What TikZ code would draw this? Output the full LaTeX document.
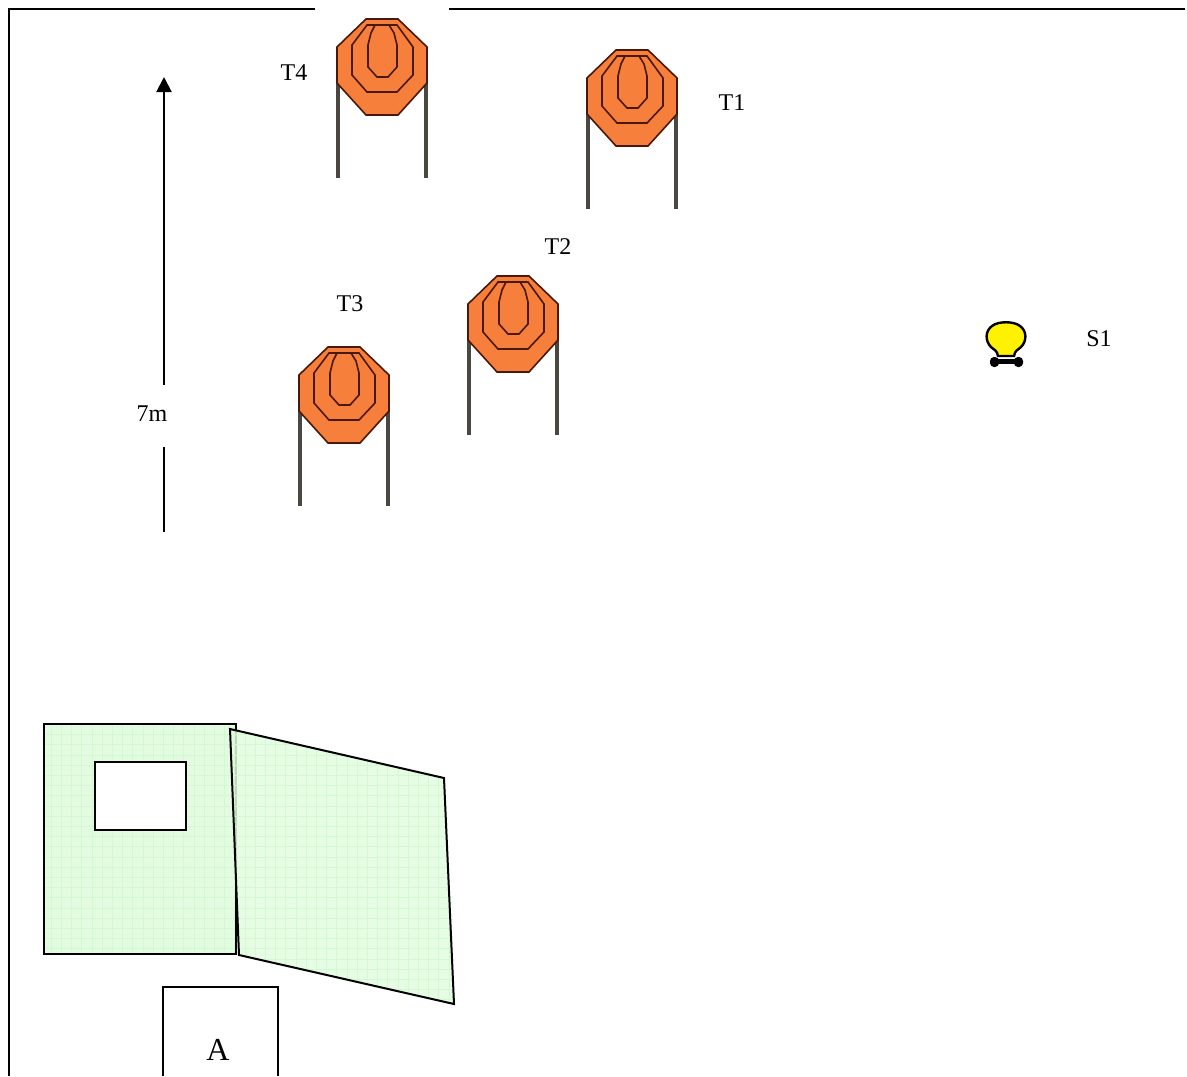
\documentclass[tikz,border=0pt]{standalone}
\usepackage{fontspec}
\setmainfont{Liberation Serif}
\usetikzlibrary{arrows.meta}
\definecolor{tgfill}{HTML}{F77F3C}
\definecolor{tgline}{HTML}{4A1806}
\definecolor{panelfill}{HTML}{E3FBE1}
\definecolor{panelgrid}{HTML}{D2F9CF}
\definecolor{postcol}{HTML}{4A4640}
\tikzset{
  x=0.5pt,y=-0.5pt,
  lbl/.style={inner sep=0pt,font=\fontsize{12}{14}\selectfont},
  border/.style={line width=1pt,black},
  panel/.style={line width=1pt,black},
  targetpost/.style={postcol,line width=2pt},
  targetedge/.style={tgline,line width=0.8pt},
  pics/shootingtarget/.style={code={
    \draw[targetpost] (-44,60) -- (-44,160);
    \draw[targetpost] (44,60) -- (44,160);
    \draw[targetedge,fill=tgfill] (-16,1) -- (16,1) -- (45,29) -- (45,65) -- (16,97) -- (-16,97) -- (-45,65) -- (-45,29) -- cycle;
    \draw[targetedge] (-15,7) -- (15,7) -- (31,29) -- (31,57) -- (15,74) -- (-15,74) -- (-30,57) -- (-30,27) -- cycle;
    \draw[targetedge] (-7,7) -- (7,7) -- (12,15) -- (15,27) -- (15,49) -- (6,59) -- (-5,59) -- (-14,49) -- (-14,27) -- (-11,15) -- cycle;
  }}
}
\begin{document}
\begin{tikzpicture}
\useasboundingbox (0,0) rectangle (1187,1076);
\clip (0,0) rectangle (1187,1076);
% frame
\coordinate (fbl) at (9,1076);
\coordinate (ftl) at (9,9);
\coordinate (gapl) at (315,9);
\coordinate (gapr) at (449,9);
\coordinate (ftr) at (1185,9);
\draw[border] (fbl) -- (ftl) -- (gapl);
\draw[border] (gapr) -- (ftr);
% targets
\pic at (382,18) {shootingtarget};
\pic at (632,49) {shootingtarget};
\pic at (513,275) {shootingtarget};
\pic at (344,346) {shootingtarget};
% labels
\node[lbl] (t4) at (294,73) {T4};
\node[lbl] (t1) at (732,103) {T1};
\node[lbl] (t2) at (558,247) {T2};
\node[lbl] (t3) at (350,304) {T3};
\node[lbl] (s1) at (1099,339) {S1};
\node[lbl] (dist) at (152,414) {7m};
% dimension arrow
\coordinate (arrtop) at (164,77);
\coordinate (arrup) at (164,385);
\coordinate (arrlow) at (164,447);
\coordinate (arrbot) at (164,532);
\draw[line width=1pt,-{Triangle[width=7.5pt,length=7.5pt]}] (arrup) -- (arrtop);
\draw[line width=1pt] (arrlow) -- (arrbot);
% sensor
\draw[black,line width=2.5pt] (994,361.5) -- (1019,361.5);
\fill[black,rounded corners=2pt] (990,357) rectangle (999,367);
\fill[black,rounded corners=2pt] (1014,357) rectangle (1023,367);
\draw[black,fill=yellow,line width=1.2pt] (998,356) -- (1014,356) .. controls (1015,350) and (1018,350) .. (1021,347)
  .. controls (1027,341) and (1027,331) .. (1020,326) .. controls (1014,321) and (998,321) .. (992,326)
  .. controls (985,331) and (985,341) .. (991,347) .. controls (994,350) and (997,350) .. (998,356) -- cycle;
% green panels
\fill[panelfill] (44,724) rectangle (236,954);
\begin{scope}
  \clip (44,724) rectangle (236,954);
  \draw[panelgrid,line width=0.3pt,step=5.1pt] (0,700) grid (300,1000);
\end{scope}
\draw[panel] (44,724) rectangle (236,954);
\draw[panel,fill=white] (95,762) rectangle (186,830);
\fill[panelfill,fill opacity=0.85] (230,729) -- (444,778) -- (454,1004) -- (239,955) -- cycle;
\begin{scope}
  \clip (230,729) -- (444,778) -- (454,1004) -- (239,955) -- cycle;
  \draw[panelgrid,line width=0.3pt,step=5.1pt] (200,700) grid (480,1020);
\end{scope}
\draw[panel] (230,729) -- (444,778) -- (454,1004) -- (239,955) -- cycle;
% box A
\coordinate (abl) at (163,1076);
\coordinate (atl) at (163,987);
\coordinate (atr) at (278,987);
\coordinate (abr) at (278,1076);
\draw[panel] (abl) -- (atl) -- (atr) -- (abr);
\node[inner sep=0pt,font=\fontsize{16}{18}\selectfont] (a) at (218,1050) {A};
\end{tikzpicture}
\end{document}
